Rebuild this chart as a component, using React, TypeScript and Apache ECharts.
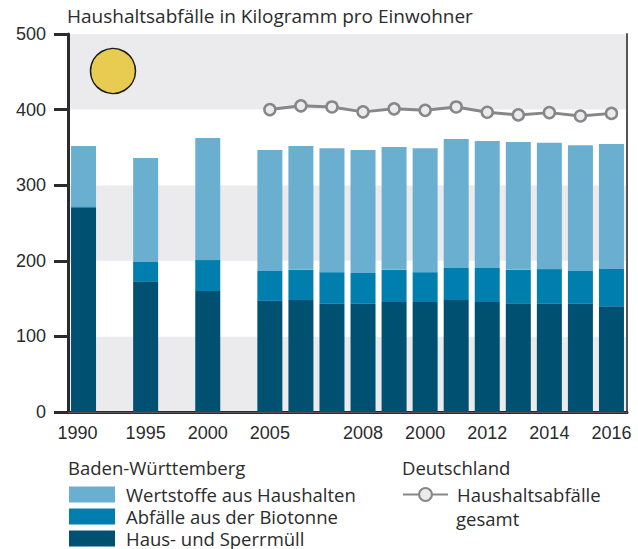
import React, { useEffect, useRef } from "react";
import * as echarts from "echarts";

const tickLabels = ["1990", "", "1995", "", "2000", "", "2005", "", "", "2008", "", "2000", "", "2012", "", "2014", "", "2016"];
const haus = [270, null, 173, null, 160, null, 147, 148, 143, 143, 145.5, 145.5, 148, 145.5, 144, 143, 143, 140];
const bio = [2, null, 25.5, null, 41, null, 39.5, 40, 42, 41, 42.5, 39.5, 42.5, 45, 44, 46, 43.5, 49];
const wert = [80, null, 137.5, null, 161.5, null, 160, 164, 164, 162.5, 162.5, 164, 170.5, 168, 169, 167, 166.5, 165.5];
const deutschland = [null, null, null, null, null, null, 400, 405, 403.5, 397, 401, 399, 403.5, 396.5, 393, 396, 391.5, 395];

const FONT = "'Open Sans', sans-serif";
const NUM_FONT = "'Liberation Sans', Arial, sans-serif";
const INK = "#2b2b2b";
const BAND = "#ebebed";
const NAME_WERT = "Wertstoffe aus Haushalten";
const NAME_BIO = "Abfälle aus der Biotonne";
const NAME_HAUS = "Haus- und Sperrmüll";
const NAME_LINE = "Haushaltsabfälle";

export default function App() {
  const ref = useRef<HTMLDivElement>(null);
  useEffect(() => {
    document.body.style.margin = "0";
    const chart = echarts.init(ref.current!, null, { renderer: "svg" });
    const legendText = { fontFamily: FONT, fontSize: 18.5, lineHeight: 16, color: INK, padding: [0, 0, 0, 6] };
    const bar = (name: string, data: (number | null)[], color: string) => ({
      name, type: "bar", stack: "bw", data, barWidth: 25, itemStyle: { color }, z: 3,
    });
    chart.setOption({
      animation: false,
      backgroundColor: "#fff",
      textStyle: { fontFamily: FONT },
      title: {
        text: "Haushaltsabfälle in Kilogramm pro Einwohner",
        left: 67, top: 6, padding: 0,
        textStyle: { fontFamily: FONT, fontSize: 19, fontWeight: "normal", color: INK },
      },
      grid: { left: 68, top: 34, width: 559, height: 378 },
      xAxis: [
        {
          type: "category",
          data: tickLabels.map((t, i) => (i === 0 ? { value: t, textStyle: { padding: [0, 12, 0, 0] } } : t)),
          axisLine: { lineStyle: { color: INK, width: 3 } },
          axisTick: { show: false },
          axisLabel: { interval: 0, margin: 12, fontFamily: NUM_FONT, fontSize: 18, color: INK },
        },
        {
          type: "category", position: "top",
          data: tickLabels,
          axisLine: { show: true, lineStyle: { color: "#555", width: 1 } },
          axisTick: { show: false }, axisLabel: { show: false },
        },
      ],
      yAxis: [
        {
          type: "value", min: 0, max: 500, interval: 100,
          axisLine: { show: true, lineStyle: { color: INK, width: 3 } },
          axisTick: { show: true, length: 14, lineStyle: { color: INK, width: 3 } },
          axisLabel: { margin: 22, fontFamily: NUM_FONT, fontSize: 18, color: INK },
          splitLine: { show: false },
          splitArea: { show: true, areaStyle: { color: [BAND, "#fff"] } },
        },
        {
          type: "value", min: 0, max: 500, interval: 100, position: "right",
          axisLine: { show: true, lineStyle: { color: "#555", width: 2 } },
          axisTick: { show: false }, axisLabel: { show: false }, splitLine: { show: false },
        },
      ],
      legend: [
        {
          left: 69, top: 485, height: 100, orient: "vertical", itemWidth: 46, itemHeight: 16, itemGap: 3,
          icon: "rect", selectedMode: false, padding: 0,
          data: [NAME_WERT, NAME_BIO, NAME_HAUS], textStyle: legendText,
        },
        {
          left: 402, top: 485, itemWidth: 45, itemHeight: 16, padding: 0, selectedMode: false,
          data: [NAME_LINE], textStyle: { ...legendText, padding: [0, 0, 0, 4] },
        },
      ],
      series: [
        bar(NAME_HAUS, haus, "#005072"),
        bar(NAME_BIO, bio, "#007fae"),
        bar(NAME_WERT, wert, "#6bafd0"),
        {
          name: NAME_LINE, type: "line", data: deutschland, symbol: "circle", symbolSize: 11,
          lineStyle: { color: "#878787", width: 3 },
          itemStyle: { color: BAND, borderColor: "#878787", borderWidth: 2.5 },
          z: 4,
        },
      ],
      graphic: [
        {
          type: "circle", shape: { cx: 113, cy: 71, r: 22.5 },
          style: { fill: "#e8cc52", stroke: "#1c1c1c", lineWidth: 1.5 }, z: 10,
        },
        {
          type: "text", x: 456, y: 510,
          style: { text: "gesamt", fontFamily: FONT, fontSize: 18.5, lineHeight: 16, fill: INK }, z: 10,
        },
        {
          type: "text", x: 68, y: 458,
          style: { text: "Baden-Württemberg", fontFamily: FONT, fontSize: 18.5, fill: INK }, z: 10,
        },
        {
          type: "text", x: 402, y: 458,
          style: { text: "Deutschland", fontFamily: FONT, fontSize: 18.5, fill: INK }, z: 10,
        },
      ],
    });
    return () => chart.dispose();
  }, []);
  return <div ref={ref} style={{ width: 638, height: 549 }} />;
}
